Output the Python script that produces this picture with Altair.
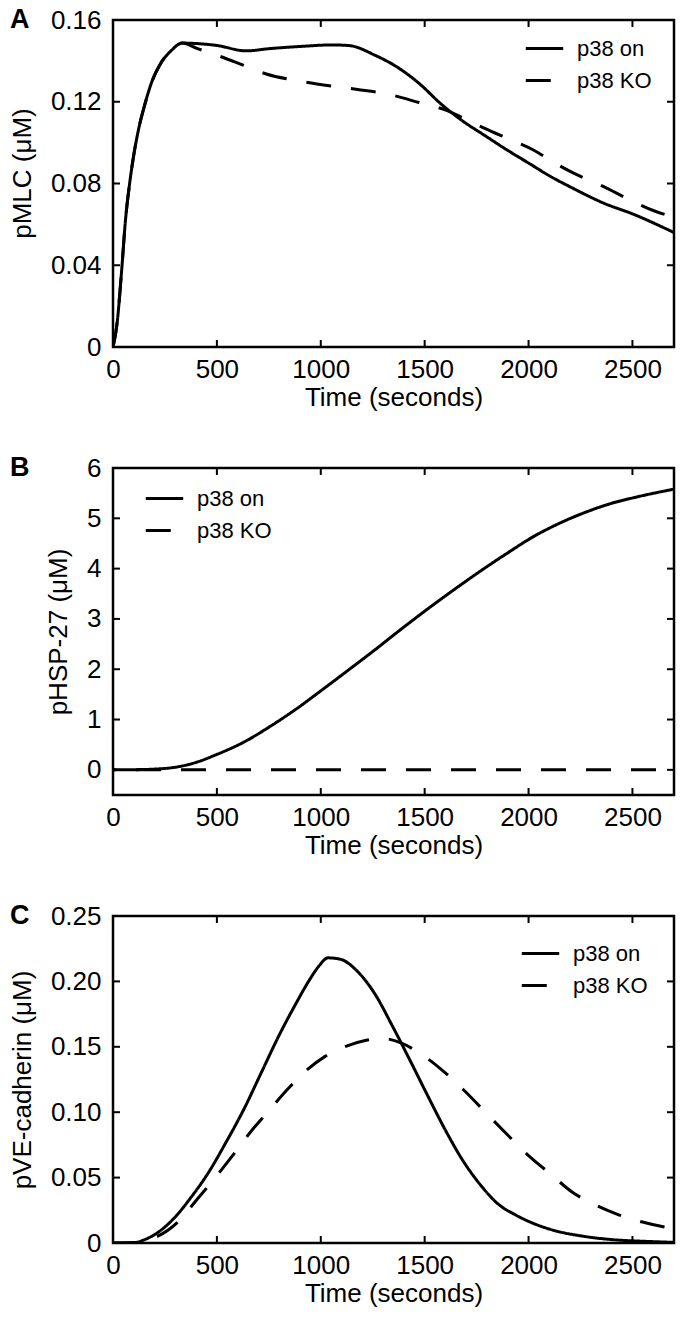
import altair as alt
import pandas as pd

FONT = "Liberation Sans"
SERIES = ["p38 on", "p38 KO"]
X_TICKS = [0, 500, 1000, 1500, 2000, 2500]
X_TITLE = "Time (seconds)"

# ---- Panel A: pMLC ----
A_on_t = [0, 20, 42, 60, 80, 100, 122, 154, 186, 228, 280, 333, 400, 502, 640, 755, 924, 1051, 1135,
          1262, 1367, 1473, 1578, 1684, 1789, 1895, 2000, 2105, 2211, 2359, 2506, 2700]
A_on_v = [0, 0.012, 0.038, 0.062, 0.080, 0.094, 0.106, 0.119, 0.1295, 0.1385, 0.145, 0.1487, 0.1485,
          0.1475, 0.1449, 0.1460, 0.1472, 0.1478, 0.1475, 0.1427, 0.137, 0.129, 0.119, 0.1105, 0.1035,
          0.0965, 0.090, 0.0835, 0.0778, 0.0705, 0.0649, 0.056]
A_ko_t = [0, 20, 42, 60, 80, 100, 122, 154, 186, 228, 280, 333, 407, 502, 629, 734, 924, 1051, 1177,
          1346, 1473, 1599, 1726, 1789, 1916, 2021, 2127, 2232, 2359, 2485, 2600, 2700]
A_ko_v = [0, 0.012, 0.038, 0.062, 0.080, 0.094, 0.106, 0.119, 0.1295, 0.1385, 0.145, 0.1487, 0.146,
          0.1427, 0.1378, 0.1337, 0.1297, 0.1277, 0.126, 0.1232, 0.1196, 0.116, 0.110, 0.107, 0.1013,
          0.0965, 0.090, 0.0843, 0.0786, 0.0721, 0.0668, 0.0635]
A_yticks = [0, 0.04, 0.08, 0.12, 0.16]

# ---- Panel B: pHSP-27 ----
B_on_t = [0, 100, 200, 291, 397, 502, 629, 755, 882, 1008, 1135, 1262, 1388, 1515, 1641, 1768, 1895,
          2021, 2148, 2274, 2401, 2527, 2700]
B_on_v = [0, 0.003, 0.015, 0.046, 0.145, 0.31, 0.55, 0.86, 1.21, 1.595, 1.99, 2.39, 2.80, 3.20, 3.58,
          3.95, 4.30, 4.63, 4.90, 5.12, 5.30, 5.43, 5.58]
B_ko_t = [0, 2700]
B_ko_v = [0, 0]
B_yticks = [0, 1, 2, 3, 4, 5, 6]

# ---- Panel C: pVE-cadherin ----
C_on_t = [0, 100, 143, 207, 291, 376, 460, 544, 629, 713, 797, 882, 945, 990, 1035, 1093, 1177, 1262,
          1346, 1430, 1515, 1599, 1684, 1768, 1852, 1937, 2008, 2114, 2262, 2409, 2557, 2700]
C_on_v = [0, 0, 0.002, 0.0071, 0.0185, 0.035, 0.054, 0.077, 0.102, 0.130, 0.158, 0.1835, 0.201, 0.2115,
          0.218, 0.217, 0.2076, 0.190, 0.1655, 0.1395, 0.1125, 0.0865, 0.063, 0.0445, 0.030, 0.0215,
          0.016, 0.010, 0.0052, 0.0025, 0.0013, 0.0005]
C_ko_t = [0, 100, 200, 312, 407, 492, 586, 660, 755, 840, 924, 1019, 1114, 1219, 1290, 1386, 1473, 1578,
          1694, 1810, 1903, 2000, 2105, 2211, 2327, 2422, 2548, 2654, 2700]
C_ko_v = [0, 0.0003, 0.004, 0.016, 0.0338, 0.050, 0.069, 0.0845, 0.102, 0.1175, 0.131, 0.1425, 0.150,
          0.155, 0.1565, 0.153, 0.1454, 0.133, 0.116, 0.097, 0.082, 0.0668, 0.0528, 0.0388, 0.0287,
          0.0223, 0.016, 0.0122, 0.011]
C_yticks = [0, 0.05, 0.10, 0.15, 0.20, 0.25]

W, H = 561, 327
TICK = 7


def panel(letter, on_t, on_v, ko_t, ko_v, ydomain, yticks, ytitle, label_expr, leg_x, leg_y,
          dash_offset, title_y=None):
    df = pd.concat([
        pd.DataFrame({"t": on_t, "v": on_v, "s": SERIES[0]}),
        pd.DataFrame({"t": ko_t, "v": ko_v, "s": SERIES[1]}),
    ])
    xs = alt.Scale(domain=[0, 2700], nice=False, zero=False)
    ys = alt.Scale(domain=ydomain, nice=False, zero=False)
    yargs = dict(values=yticks, title=ytitle)
    if label_expr:
        yargs["labelExpr"] = label_expr
    else:
        yargs["format"] = "d"
    if title_y is not None:
        yargs["titleY"] = title_y
    lines = alt.Chart(df).mark_line(
        color="black", strokeWidth=3, clip=True, interpolate="monotone", strokeDashOffset=dash_offset
    ).encode(
        x=alt.X("t:Q", scale=xs, axis=alt.Axis(values=X_TICKS, title=X_TITLE, format="d",
                                                labelFlush=False)),
        y=alt.Y("v:Q", scale=ys, axis=alt.Axis(**yargs)),
        strokeDash=alt.StrokeDash(
            "s:N",
            scale=alt.Scale(domain=SERIES, range=[[1, 0], [25, 20]]),
            legend=alt.Legend(
                orient="none", legendX=leg_x, legendY=leg_y, title=None,
                symbolType="stroke", symbolSize=1400, symbolStrokeWidth=3,
                symbolStrokeColor="black", labelFont=FONT, labelFontSize=22,
                labelColor="black", labelOffset=12, rowPadding=-9,
            ),
        ),
    )
    ydf = pd.DataFrame({"v": yticks})
    xdf = pd.DataFrame({"t": X_TICKS})
    rule = dict(color="black", strokeWidth=2)
    left = alt.Chart(ydf).mark_rule(**rule).encode(
        y=alt.Y("v:Q", scale=ys), x=alt.value(0), x2=alt.value(TICK))
    right = alt.Chart(ydf).mark_rule(**rule).encode(
        y=alt.Y("v:Q", scale=ys), x=alt.value(W - TICK), x2=alt.value(W))
    bottom = alt.Chart(xdf).mark_rule(**rule).encode(
        x=alt.X("t:Q", scale=xs), y=alt.value(H - TICK), y2=alt.value(H))
    top = alt.Chart(xdf).mark_rule(**rule).encode(
        x=alt.X("t:Q", scale=xs), y=alt.value(0), y2=alt.value(TICK))
    lab = alt.Chart(pd.DataFrame({"l": [letter]})).mark_text(
        font=FONT, fontSize=27, fontWeight="bold", align="left", baseline="middle", color="black"
    ).encode(text="l:N", x=alt.value(-103), y=alt.value(0))
    return alt.layer(lines, left, right, bottom, top, lab).properties(width=W, height=H)


expr2 = "datum.value == 0 ? '0' : format(datum.value, '.2f')"
A = panel("A", A_on_t, A_on_v, A_ko_t, A_ko_v, [0, 0.16], A_yticks, "pMLC (\u03bcM)", expr2,
          411, 8, 0, title_y=153)
B = panel("B", B_on_t, B_on_v, B_ko_t, B_ko_v, [-0.5, 6], B_yticks, "pHSP-27 (\u03bcM)", None,
          31, 10, 22)
C = panel("C", C_on_t, C_on_v, C_ko_t, C_ko_v, [0, 0.25], C_yticks, "pVE-cadherin (\u03bcM)", expr2,
          407, 17, 0)

chart = alt.vconcat(
    A, B, C, spacing=121, bounds="flush",
    padding={"left": 0, "top": -4, "right": 0, "bottom": 0},
).resolve_scale(
    strokeDash="independent"
).resolve_legend(
    strokeDash="independent"
).configure_view(
    stroke="black", strokeWidth=2.5
).configure_axis(
    labelFont=FONT, labelFontSize=26, labelColor="black", labelPadding=9,
    titleFont=FONT, titleFontSize=26, titleFontWeight="normal", titleColor="black",
    ticks=False, domain=False, grid=False,
).configure_axisX(titlePadding=2).configure_axisY(titlePadding=15, labelPadding=12)

chart.save("out.html", embed_options={"renderer": "svg", "actions": False})
